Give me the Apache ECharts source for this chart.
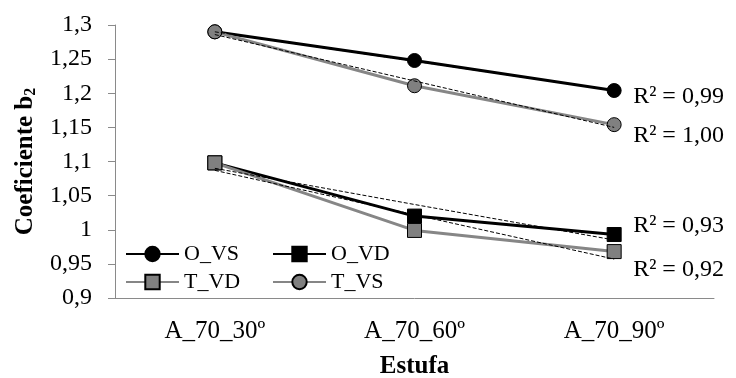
<!DOCTYPE html>
<html>
<head>
    <meta charset="utf-8">
    <title>Coeficiente b2</title>
    <script src="https://cdn.jsdelivr.net/npm/echarts@6/dist/echarts.min.js"></script>
    <style>
        body, html { margin: 0; background: #fff; }
        #main { width: 736px; height: 378px; }
    </style>
</head>
<body>
<div id="main"></div>
<script type="text/javascript">
    var categories = ['A_70_30º', 'A_70_60º', 'A_70_90º'];
    var oVS = [1.290, 1.248, 1.204];
    var oVD = [1.098, 1.020, 0.993];
    var tVD = [1.098, 0.999, 0.968];
    var tVS = [1.290, 1.211, 1.154];
    // linear trend lines
    var trendOVS = [1.290, 1.247, 1.204];
    var trendOVD = [1.090, 1.037, 0.985];
    var trendTVD = [1.087, 1.022, 0.957];
    var trendTVS = [1.286, 1.218, 1.150];
    var r2OVS = 'R² = 0,99';
    var r2OVD = 'R² = 0,93';
    var r2TVD = 'R² = 0,92';
    var r2TVS = 'R² = 1,00';

    var font = '"Liberation Serif", "Times New Roman", serif';
    var gray = '#868686';
    var axisColor = '#8a8a8a';

    var myChart = echarts.init(document.getElementById('main'));

    function dataSeries(name, data, color, symbol) {
        return {
            name: name,
            type: 'line',
            data: data,
            symbol: symbol,
            symbolSize: 14,
            lineStyle: { color: color, width: 3 },
            itemStyle: {
                color: color === '#000' ? '#000' : '#808080',
                borderColor: '#000',
                borderWidth: 1
            },
            emphasis: { disabled: true },
            z: 2
        };
    }

    function trendSeries(name, data, text, dy) {
        return {
            name: name,
            type: 'line',
            data: data,
            symbol: 'none',
            lineStyle: { color: '#000', width: 1, type: [4, 2] },
            endLabel: {
                show: true,
                formatter: text,
                distance: 19,
                offset: [0, dy],
                fontFamily: font,
                fontSize: 24,
                color: '#000'
            },
            emphasis: { disabled: true },
            z: 3
        };
    }

    var legendText = { fontFamily: font, fontSize: 22, color: '#000' };

    var option = {
        animation: false,
        backgroundColor: '#fff',
        grid: {
            left: 115, right: 22, top: 25, bottom: 80,
            containLabel: false,
            outerBoundsMode: 'none'
        },
        legend: [
            {
                orient: 'vertical', left: 120, top: 238,
                itemWidth: 53, itemHeight: 18, itemGap: 6,
                data: ['O_VS', 'T_VD'], textStyle: legendText
            },
            {
                orient: 'vertical', left: 267, top: 238,
                itemWidth: 53, itemHeight: 18, itemGap: 6,
                data: ['O_VD', 'T_VS'], textStyle: legendText
            }
        ],
        xAxis: {
            type: 'category',
            data: categories,
            name: 'Estufa',
            nameLocation: 'middle',
            nameGap: 56,
            nameTextStyle: { fontFamily: font, fontSize: 25, fontWeight: 'bold', color: '#000' },
            axisLine: { lineStyle: { color: axisColor, width: 1 } },
            axisTick: { length: 7, lineStyle: { color: axisColor } },
            axisLabel: { margin: 21, fontFamily: font, fontSize: 25, color: '#000' },
            splitLine: { show: false }
        },
        yAxis: {
            type: 'value',
            min: 0.9,
            max: 1.3,
            interval: 0.05,
            name: 'Coeficiente b{sub|2}',
            nameLocation: 'middle',
            nameGap: 74,
            nameTextStyle: {
                fontFamily: font, fontSize: 25, fontWeight: 'bold', color: '#000',
                rich: {
                    sub: { fontFamily: font, fontSize: 16, fontWeight: 'bold', color: '#000', padding: [12, 0, 0, 0] }
                }
            },
            axisLine: { show: true, lineStyle: { color: axisColor, width: 1 } },
            axisTick: { show: true, length: 7, lineStyle: { color: axisColor } },
            axisLabel: {
                margin: 23, fontFamily: font, fontSize: 24, color: '#000',
                formatter: function (v) {
                    return String(+v.toFixed(2)).replace('.', ',');
                }
            },
            splitLine: { show: false }
        },
        series: [
            dataSeries('O_VS', oVS, '#000', 'circle'),
            dataSeries('O_VD', oVD, '#000', 'rect'),
            dataSeries('T_VD', tVD, gray, 'rect'),
            dataSeries('T_VS', tVS, gray, 'circle'),
            trendSeries('trend O_VS', trendOVS, r2OVS, 6),
            trendSeries('trend O_VD', trendOVD, r2OVD, -14),
            trendSeries('trend T_VD', trendTVD, r2TVD, 11),
            trendSeries('trend T_VS', trendTVS, r2TVS, 8)
        ]
    };

    myChart.setOption(option);
</script>
</body>
</html>
